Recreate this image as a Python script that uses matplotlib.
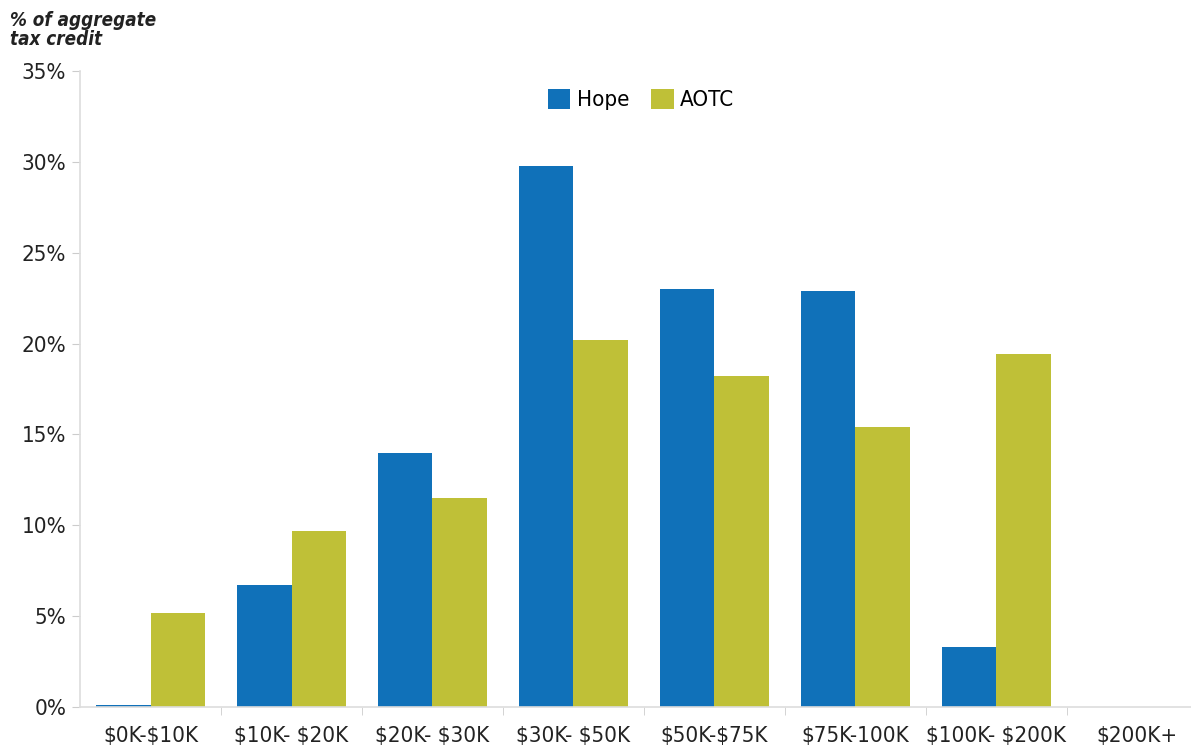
import numpy as np
import matplotlib

matplotlib.use("Agg")
import matplotlib.pyplot as plt

categories = ["$0K-$10K", "$10K- $20K", "$20K- $30K", "$30K- $50K",
              "$50K-$75K", "$75K-100K", "$100K- $200K", "$200K+"]
hope = [0.1, 6.7, 14.0, 29.8, 23.0, 22.9, 3.3, 0.0]
aotc = [5.2, 9.7, 11.5, 20.2, 18.2, 15.4, 19.4, 0.0]
yticks = [0, 5, 10, 15, 20, 25, 30, 35]

plt.rcParams["font.family"] = ["DejaVu Sans"]
plt.rcParams["font.stretch"] = "condensed"
plt.rcParams["text.parse_math"] = False

fig = plt.figure(figsize=(11.91, 7.5), dpi=100)
ax = fig.add_axes([0.0672, 0.0573, 0.9328, 0.848])

x = np.arange(len(categories))
w = 0.385
ax.bar(x - w / 2, hope, width=w, color="#1071b9", label="Hope")
ax.bar(x + w / 2, aotc, width=w, color="#bfc037", label="AOTC")

ax.set_xlim(-0.5, 7.38)
ax.set_ylim(0, 35)
ax.set_yticks(yticks)
ax.set_yticklabels([f"{t}%" for t in yticks], fontsize=16, color="#222222")
ax.set_xticks(x)
ax.set_xticklabels(categories, fontsize=16, color="#222222")
ax.tick_params(axis="x", length=0, pad=14)
ax.tick_params(axis="y", length=6, color="#cccccc", pad=4)
ax.set_xticks(x[:-1] + 0.5, minor=True)
ax.tick_params(axis="x", which="minor", length=6, color="#cccccc")

for side in ["top", "right"]:
    ax.spines[side].set_visible(False)
for side in ["left", "bottom"]:
    ax.spines[side].set_color("#dddddd")
    ax.spines[side].set_linewidth(1.2)

fig.text(0.008, 0.985, "% of aggregate\ntax credit", fontsize=13.5,
         fontweight="bold", fontstyle="italic", va="top", ha="left",
         linespacing=1.0, color="#222222")

ax.legend(loc="center", bbox_to_anchor=(0.505, 0.955), ncol=2, frameon=False,
          fontsize=16, handlelength=1.0, handleheight=1.0, columnspacing=1.0,
          handletextpad=0.3)

fig.savefig("out.png", dpi=100)
